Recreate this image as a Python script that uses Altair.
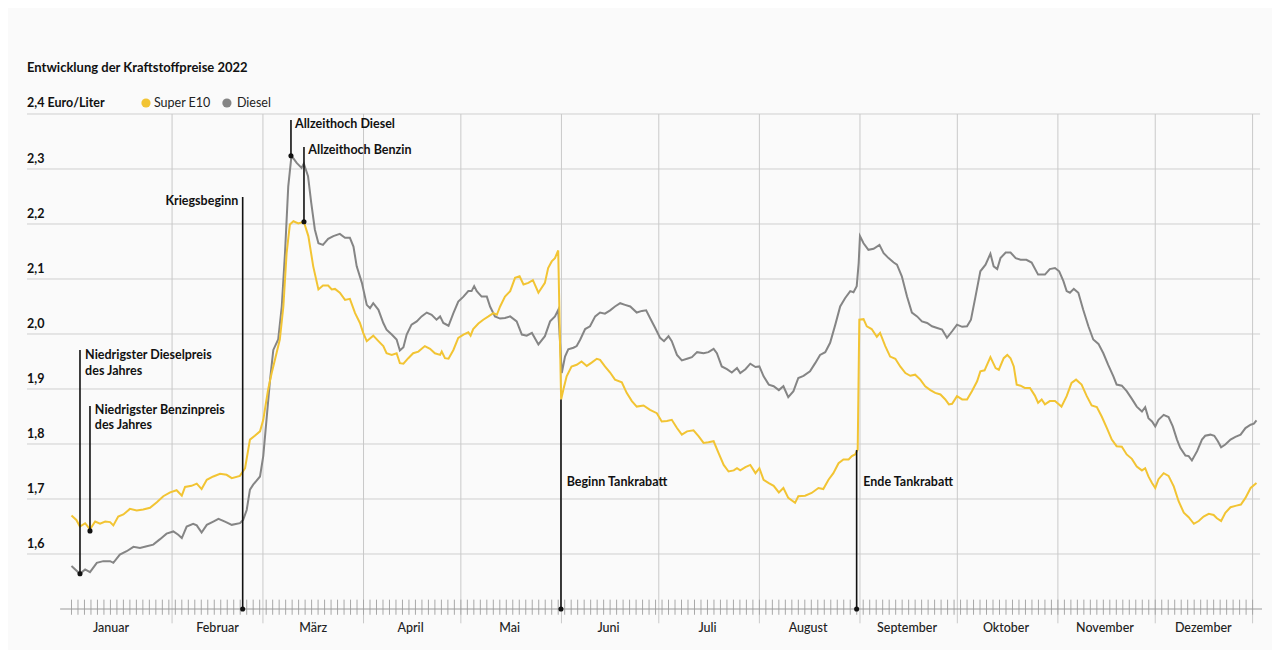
import altair as alt
import pandas as pd

# ---------------- data (day of year 2022, 0 = 1 Jan; price in Euro/Liter) -------------
diesel_day = [0.0, 2.6, 4.2, 5.7, 7.8, 9.8, 11.9, 12.9, 14.9, 17.0, 19.1, 21.1, 23.2, 25.2, 27.3, 29.3, 31.4,
              32.9, 34.0, 35.5, 37.5, 38.6, 40.1, 41.7, 43.7, 45.3, 47.3, 49.4, 51.9, 52.9, 54.0, 55.0, 56.0,
              58.1, 59.1, 60.1, 61.2, 62.2, 63.7, 64.8, 65.8, 66.8, 67.8, 69.4, 70.9, 71.6, 72.9, 73.9, 75.0,
              76.1, 77.5, 79.1, 80.7, 82.7, 84.3, 85.8, 86.9, 87.9, 89.5, 91.0, 92.0, 93.0, 94.6, 96.1, 97.1,
              98.7, 100.2, 101.2, 102.3, 103.3, 104.8, 106.4, 107.9, 109.5, 111.0, 112.5, 113.6, 114.6, 116.2,
              117.7, 119.2, 120.8, 122.3, 123.3, 124.1, 124.9, 126.4, 128.0, 129.0, 130.5, 132.1, 133.6, 135.2,
              137.2, 138.8, 140.3, 141.9, 143.9, 145.9, 147.5, 149.0, 150.0, 151.1, 152.1, 153.1, 154.7,
              155.7, 156.8, 158.3, 159.8, 161.4, 162.9, 164.4, 166.0, 167.5, 169.1, 170.6, 172.2, 174.2, 175.8,
              177.1, 178.3, 179.9, 181.4, 182.6, 184.0, 185.0, 186.6, 188.1, 189.7, 191.2, 192.8, 194.8, 196.3,
              197.9, 198.9, 200.4, 202.0, 203.5, 205.1, 206.1, 207.7, 209.2, 210.8, 212.0, 213.3, 214.9, 216.4,
              218.0, 219.4, 220.9, 222.5, 224.0, 225.6, 227.6, 229.2, 230.7, 232.3, 233.8, 235.4, 236.9, 238.4,
              240.0, 241.0, 242.0, 242.6, 243.0, 244.1, 245.6, 247.2, 249.0, 250.3, 251.8, 253.4, 254.4, 255.9,
              257.5, 259.0, 260.6, 262.1, 263.7, 265.2, 266.8, 268.3, 269.8, 271.4, 272.9, 274.5, 276.0, 277.2,
              278.6, 280.1, 281.7, 283.2, 284.2, 285.3, 286.3, 287.9, 289.4, 291.0, 292.5, 294.3, 295.9, 297.9,
              300.0, 301.5, 303.1, 304.4, 305.7, 306.7, 307.7, 308.9, 310.3, 311.8, 313.4, 314.9, 316.5, 318.0,
              319.5, 321.1, 322.1, 323.7, 325.2, 326.8, 328.3, 329.9, 330.9, 331.9, 333.0, 334.0, 335.0, 336.6,
              338.1, 339.4, 340.7, 341.7, 343.3, 344.3, 345.3, 346.9, 348.4, 349.4, 351.0, 352.2, 353.3, 354.3,
              355.6, 357.2, 358.7, 360.3, 361.8, 363.4, 364.4, 365.2]
diesel_price = [1.578, 1.564, 1.572, 1.567, 1.584, 1.587, 1.587, 1.584, 1.599, 1.605, 1.613, 1.611, 1.614, 1.617,
                1.627, 1.637, 1.641, 1.635, 1.629, 1.650, 1.655, 1.652, 1.639, 1.653, 1.659, 1.664, 1.659, 1.653,
                1.656, 1.662, 1.680, 1.717, 1.726, 1.741, 1.778, 1.844, 1.917, 1.971, 1.990, 2.050, 2.147, 2.268,
                2.324, 2.311, 2.302, 2.310, 2.287, 2.238, 2.190, 2.165, 2.162, 2.173, 2.178, 2.182, 2.175, 2.175,
                2.159, 2.123, 2.093, 2.053, 2.047, 2.056, 2.044, 2.020, 2.008, 1.999, 1.990, 1.970, 1.976, 1.999,
                2.017, 2.023, 2.032, 2.039, 2.035, 2.026, 2.032, 2.020, 2.015, 2.038, 2.059, 2.068, 2.078, 2.078,
                2.087, 2.078, 2.068, 2.068, 2.050, 2.032, 2.028, 2.029, 2.032, 2.023, 1.999, 1.997, 2.002, 1.981,
                1.996, 2.023, 2.032, 2.044, 1.929, 1.959, 1.972, 1.975, 1.978, 1.990, 2.009, 2.014, 2.032, 2.039,
                2.037, 2.043, 2.050, 2.056, 2.053, 2.050, 2.039, 2.042, 2.043, 2.029, 2.011, 1.993, 1.987, 1.996,
                1.987, 1.962, 1.952, 1.955, 1.958, 1.967, 1.965, 1.967, 1.973, 1.965, 1.941, 1.936, 1.930, 1.938,
                1.929, 1.936, 1.946, 1.940, 1.941, 1.923, 1.908, 1.905, 1.898, 1.905, 1.885, 1.896, 1.920, 1.924,
                1.932, 1.947, 1.962, 1.967, 1.984, 2.017, 2.050, 2.065, 2.078, 2.076, 2.087, 2.129, 2.178, 2.165,
                2.153, 2.155, 2.162, 2.147, 2.138, 2.130, 2.126, 2.105, 2.068, 2.039, 2.032, 2.023, 2.020, 2.014,
                2.011, 2.008, 1.993, 2.005, 2.017, 2.013, 2.014, 2.026, 2.068, 2.114, 2.126, 2.146, 2.123, 2.118,
                2.138, 2.148, 2.148, 2.138, 2.135, 2.135, 2.130, 2.108, 2.108, 2.118, 2.120, 2.114, 2.096, 2.078,
                2.075, 2.082, 2.075, 2.044, 2.014, 1.990, 1.982, 1.965, 1.944, 1.923, 1.908, 1.906, 1.896, 1.882,
                1.868, 1.859, 1.867, 1.847, 1.841, 1.832, 1.844, 1.853, 1.849, 1.832, 1.808, 1.793, 1.779, 1.778,
                1.770, 1.787, 1.808, 1.815, 1.817, 1.815, 1.805, 1.794, 1.799, 1.808, 1.813, 1.817, 1.829, 1.835,
                1.837, 1.843]

e10_day = [0.0, 1.5, 2.6, 4.2, 5.7, 7.3, 8.8, 10.4, 11.9, 12.9, 14.4, 16.0, 18.0, 20.1, 22.1, 24.2, 26.3, 28.3,
           30.4, 32.4, 34.0, 35.0, 37.0, 38.6, 40.1, 41.7, 43.7, 45.8, 47.8, 49.4, 51.9, 53.5, 55.0, 56.5, 58.1,
           59.1, 60.6, 61.7, 62.7, 64.2, 65.3, 66.3, 67.3, 68.4, 69.9, 71.6, 73.0, 74.5, 76.1, 77.5, 79.1, 80.2,
           81.2, 82.7, 84.3, 85.8, 87.4, 88.9, 89.9, 91.0, 93.0, 94.6, 96.1, 97.1, 98.7, 100.2, 101.2, 102.3,
           103.8, 105.3, 106.9, 108.9, 110.5, 112.0, 113.6, 114.1, 115.1, 116.2, 117.7, 119.2, 120.8, 122.3,
           123.0, 123.8, 125.4, 126.9, 128.5, 130.0, 131.1, 132.1, 133.6, 135.2, 136.7, 138.1, 139.3, 140.8,
           142.2, 143.9, 145.9, 146.9, 148.0, 149.0, 150.0, 150.9, 151.6, 152.6, 154.1, 155.7, 157.2, 158.8,
           160.3, 161.9, 162.9, 164.4, 166.0, 167.5, 169.6, 171.1, 172.7, 174.2, 176.3, 178.3, 180.4, 181.9,
           183.5, 185.0, 186.6, 188.1, 189.7, 191.7, 193.3, 194.8, 196.3, 197.9, 199.4, 201.0, 202.5, 204.1,
           205.1, 206.1, 207.7, 209.2, 210.8, 212.0, 213.3, 214.9, 216.4, 218.0, 219.4, 220.9, 223.0, 224.0,
           226.1, 228.1, 230.2, 231.7, 233.3, 234.8, 236.4, 237.9, 239.5, 240.5, 241.5, 242.3, 242.8, 244.1,
           245.1, 246.6, 248.2, 249.2, 250.8, 252.3, 253.9, 255.4, 257.0, 258.5, 260.0, 261.6, 263.1, 264.7,
           266.2, 267.8, 269.3, 270.4, 271.4, 272.9, 274.5, 276.0, 277.5, 279.1, 280.1, 281.4, 283.2, 284.8,
           285.8, 287.3, 288.4, 289.4, 290.4, 291.3, 292.5, 293.8, 295.4, 296.9, 297.9, 299.0, 300.0, 301.5,
           303.1, 305.1, 306.7, 308.2, 309.6, 311.3, 312.9, 314.4, 316.0, 317.5, 319.1, 320.6, 322.1, 323.7,
           325.2, 326.8, 328.3, 329.9, 330.9, 331.9, 333.0, 334.0, 335.0, 336.6, 338.1, 339.7, 341.2, 342.8,
           344.3, 345.9, 347.4, 348.9, 350.5, 352.0, 353.0, 354.3, 355.6, 357.2, 359.0, 360.4, 361.8, 363.4,
           365.2]
e10_price = [1.670, 1.662, 1.650, 1.656, 1.645, 1.659, 1.655, 1.659, 1.658, 1.652, 1.668, 1.672, 1.682, 1.679,
             1.681, 1.684, 1.694, 1.705, 1.712, 1.716, 1.706, 1.722, 1.724, 1.728, 1.718, 1.735, 1.741, 1.746,
             1.744, 1.738, 1.742, 1.756, 1.808, 1.815, 1.823, 1.844, 1.899, 1.929, 1.953, 1.990, 2.050, 2.147,
             2.199, 2.205, 2.201, 2.204, 2.178, 2.123, 2.081, 2.088, 2.088, 2.081, 2.082, 2.075, 2.062, 2.064,
             2.038, 2.020, 2.002, 1.987, 1.997, 1.987, 1.978, 1.965, 1.962, 1.965, 1.947, 1.946, 1.956, 1.965,
             1.968, 1.978, 1.973, 1.965, 1.962, 1.968, 1.956, 1.955, 1.971, 1.993, 1.999, 2.003, 1.997, 2.009,
             2.019, 2.026, 2.032, 2.038, 2.035, 2.050, 2.068, 2.078, 2.102, 2.105, 2.090, 2.093, 2.098, 2.075,
             2.093, 2.120, 2.132, 2.138, 2.152, 1.881, 1.899, 1.923, 1.941, 1.944, 1.950, 1.942, 1.948, 1.955,
             1.953, 1.941, 1.930, 1.917, 1.912, 1.893, 1.878, 1.868, 1.870, 1.862, 1.856, 1.841, 1.842, 1.844,
             1.829, 1.817, 1.823, 1.825, 1.814, 1.802, 1.803, 1.805, 1.784, 1.762, 1.750, 1.752, 1.756, 1.752,
             1.758, 1.762, 1.747, 1.756, 1.735, 1.729, 1.724, 1.712, 1.720, 1.702, 1.693, 1.705, 1.706, 1.711,
             1.720, 1.718, 1.735, 1.747, 1.765, 1.772, 1.772, 1.778, 1.781, 1.790, 2.026, 2.027, 2.014, 2.009,
             1.995, 2.002, 1.978, 1.959, 1.955, 1.941, 1.929, 1.924, 1.926, 1.917, 1.905, 1.898, 1.893, 1.890,
             1.881, 1.872, 1.873, 1.887, 1.881, 1.881, 1.896, 1.914, 1.932, 1.934, 1.958, 1.938, 1.935, 1.956,
             1.962, 1.956, 1.941, 1.908, 1.906, 1.902, 1.902, 1.888, 1.875, 1.881, 1.872, 1.878, 1.878, 1.868,
             1.887, 1.911, 1.917, 1.908, 1.887, 1.870, 1.867, 1.850, 1.829, 1.808, 1.796, 1.795, 1.781, 1.773,
             1.759, 1.752, 1.756, 1.741, 1.729, 1.720, 1.736, 1.747, 1.742, 1.723, 1.696, 1.675, 1.667, 1.655,
             1.660, 1.668, 1.673, 1.671, 1.665, 1.660, 1.675, 1.685, 1.688, 1.690, 1.702, 1.720, 1.729]

month_names = ["Januar", "Februar", "März", "April", "Mai", "Juni", "Juli", "August",
               "September", "Oktober", "November", "Dezember"]
month_label_day = [12.2, 45.0, 74.5, 104.5, 135.0, 165.5, 196.0, 227.0, 257.5, 288.0, 318.5, 348.8]
month_grid_day = [31, 59, 90, 120, 151, 181, 212, 243, 273, 304, 334, 364]
y_ticks = [1.6, 1.7, 1.8, 1.9, 2.0, 2.1, 2.2, 2.3, 2.4]
y_tick_labels = ["1,6", "1,7", "1,8", "1,9", "2,0", "2,1", "2,2", "2,3"]

# annotations: label lines, day of the event, line top, line bottom, dot value
ann_day = [2.62, 5.70, 52.76, 67.64, 71.65, 150.85, 241.97]
ann_top = [1.971, 1.869, 2.249, 2.389, 2.340, 1.881, 1.789]
ann_bottom = [1.564, 1.642, 1.500, 2.324, 2.204, 1.500, 1.500]

ann_text = ["Niedrigster Dieselpreis", "des Jahres", "Niedrigster Benzinpreis", "des Jahres",
            "Kriegsbeginn", "Allzeithoch Diesel", "Allzeithoch Benzin", "Beginn Tankrabatt", "Ende Tankrabatt"]
ann_text_day = [4.2, 4.2, 7.2, 7.2, 51.4, 68.9, 73.0, 152.6, 244.0]
ann_text_val = [1.962, 1.933, 1.862, 1.835, 2.242, 2.382, 2.335, 1.731, 1.731]
ann_text_align = ["left", "left", "left", "left", "right", "left", "left", "left", "left"]

YELLOW = "#f2c433"
GREY = "#858585"
FONT = "Lato"

X0, X1 = -13.71, 366.9
xs = alt.Scale(domain=[X0, X1], nice=False, zero=False)
ys = alt.Scale(domain=[1.5, 2.4], nice=False, zero=False)


def X(field="x"):
    return alt.X(f"{field}:Q", scale=xs, axis=None)


def Y(field="y"):
    return alt.Y(f"{field}:Q", scale=ys, axis=None)


# ---------------- frame ----------------
hgrid = alt.Chart(pd.DataFrame({"y": y_ticks, "x": X0, "x2": 366.3})).mark_rule(
    color="#cfcfcf", strokeWidth=1).encode(x=X(), x2="x2:Q", y=Y())

vgrid = alt.Chart(pd.DataFrame({"x": month_grid_day, "y": 1.474, "y2": 2.4})).mark_rule(
    color="#c9c9c9", strokeWidth=1).encode(x=X(), y=Y(), y2="y2:Q")

base_rule = alt.Chart(pd.DataFrame({"x": [-3.5], "x2": [366.9], "y": [1.5]})).mark_rule(
    color="#9a9a9a", strokeWidth=1).encode(x=X(), x2="x2:Q", y=Y())

tick_days = list(range(0, 366, 2))
ticks = alt.Chart(pd.DataFrame({"x": tick_days, "y": 1.4895, "y2": 1.517})).mark_rule(
    color="#a8a8a8", strokeWidth=1).encode(x=X(), y=Y(), y2="y2:Q")

# ---------------- series ----------------
df_d = pd.DataFrame({"x": diesel_day, "y": diesel_price})
df_e = pd.DataFrame({"x": e10_day, "y": e10_price})
line_d = alt.Chart(df_d).mark_line(color=GREY, strokeWidth=2).encode(x=X(), y=Y(), order="x:Q")
line_e = alt.Chart(df_e).mark_line(color=YELLOW, strokeWidth=2).encode(x=X(), y=Y(), order="x:Q")

# ---------------- annotations ----------------
df_ann = pd.DataFrame({"x": ann_day, "y": ann_top, "y2": ann_bottom})
ann_lines = alt.Chart(df_ann).mark_rule(color="#111111", strokeWidth=1.6).encode(
    x=X(), y=Y(), y2="y2:Q")
ann_dots = alt.Chart(pd.DataFrame({"x": ann_day, "y": ann_bottom})).mark_circle(
    color="#111111", size=26, opacity=1).encode(x=X(), y=Y())

ann_labels = []
for t, d, v, a in zip(ann_text, ann_text_day, ann_text_val, ann_text_align):
    ann_labels.append(
        alt.Chart(pd.DataFrame({"x": [d], "y": [v], "t": [t]})).mark_text(
            align=a, baseline="middle", font=FONT, fontSize=12.5, fontWeight="bold", color="#111111"
        ).encode(x=X(), y=Y(), text="t:N"))

# ---------------- texts ----------------
ylab = alt.Chart(pd.DataFrame({"x": X0, "y": [v + 0.018 for v in y_ticks[:-1]], "t": y_tick_labels})).mark_text(
    align="left", baseline="middle", font=FONT, fontSize=12.5, fontWeight="bold", color="#111111"
).encode(x=X(), y=Y(), text="t:N")

unit_lab = alt.Chart(pd.DataFrame({"x": [X0], "y": [2.42], "t": ["2,4 Euro/Liter"]})).mark_text(
    align="left", baseline="middle", font=FONT, fontSize=12.5, fontWeight="bold", color="#111111"
).encode(x=X(), y=Y(), text="t:N")

title = alt.Chart(pd.DataFrame({"x": [X0], "y": [2.4836], "t": ["Entwicklung der Kraftstoffpreise 2022"]})).mark_text(
    align="left", baseline="middle", font=FONT, fontSize=13, fontWeight="bold", color="#111111"
).encode(x=X(), y=Y(), text="t:N")

mlab = alt.Chart(pd.DataFrame({"x": month_label_day, "y": 1.466, "t": month_names})).mark_text(
    align="center", baseline="middle", font=FONT, fontSize=12.5, fontWeight=500, color="#222222"
).encode(x=X(), y=Y(), text="t:N")

legend_names = ["Super E10", "Diesel"]
legend_colors = [YELLOW, GREY]
legend_dot_day = [22.96, 47.9]
legend_text_day = [25.4, 51.0]
leg_dots = alt.Chart(pd.DataFrame({"x": legend_dot_day, "y": 2.42, "s": legend_names})).mark_circle(
    size=85, opacity=1).encode(
    x=X(), y=Y(),
    color=alt.Color("s:N", scale=alt.Scale(domain=legend_names, range=legend_colors), legend=None))
leg_text = alt.Chart(pd.DataFrame({"x": legend_text_day, "y": 2.42, "t": legend_names})).mark_text(
    align="left", baseline="middle", font=FONT, fontSize=12.5, color="#222222"
).encode(x=X(), y=Y(), text="t:N")

chart = alt.layer(
    hgrid, vgrid, ticks, base_rule, line_d, line_e, ann_lines, ann_dots, *ann_labels,
    ylab, unit_lab, title, mlab, leg_dots, leg_text
).properties(
    width=1235, height=495,
    autosize=alt.AutoSizeParams(type="none"),
    padding={"left": 19, "top": 106, "right": 10, "bottom": 41},
    background="#fafafa",
).configure_view(stroke=None)

chart.save("out.html", embed_options={"renderer": "svg", "actions": False})
